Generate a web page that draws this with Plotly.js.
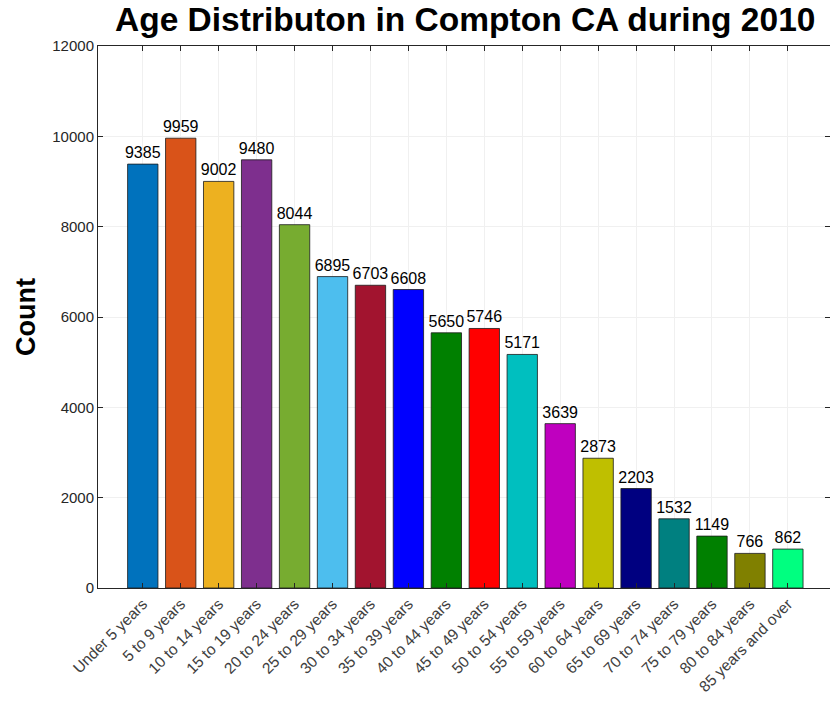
<!DOCTYPE html>
<html>
<head>
<meta charset="utf-8">
<script src="https://cdn.plot.ly/plotly-3.0.1.min.js"></script>
<style>html,body{margin:0;padding:0;background:#fff;}</style>
</head>
<body>
<div id="chart" style="width:830px;height:702px;"></div>
<script>
const categories = ["Under 5 years","5 to 9 years","10 to 14 years","15 to 19 years","20 to 24 years","25 to 29 years","30 to 34 years","35 to 39 years","40 to 44 years","45 to 49 years","50 to 54 years","55 to 59 years","60 to 64 years","65 to 69 years","70 to 74 years","75 to 79 years","80 to 84 years","85 years and over"];
const counts = [9385,9959,9002,9480,8044,6895,6703,6608,5650,5746,5171,3639,2873,2203,1532,1149,766,862];
const barColors = ["#0072BD","#D95319","#EDB120","#7E2F8E","#77AC30","#4DBEEE","#A2142F","#0000FF","#008000","#FF0000","#00BFBF","#BF00BF","#BFBF00","#000080","#008080","#008000","#808000","#00FF80"];
const yTicks = [0,2000,4000,6000,8000,10000,12000];

const positions = categories.map((c,i)=>i);
const font = "Liberation Sans, Arial, Helvetica, sans-serif";

const trace = {
  type: "bar",
  x: positions,
  y: counts,
  width: 0.8,
  marker: {color: barColors, line: {color: "#1a1a1a", width: 0.8}},
  text: counts.map(String),
  textposition: "outside",
  constraintext: "none",
  textfont: {family: font, size: 16, color: "#000"},
  cliponaxis: false,
  hoverinfo: "x+y"
};

const layout = {
  width: 830, height: 702,
  margin: {l: 98, r: 0, t: 46, b: 114},
  paper_bgcolor: "#fff", plot_bgcolor: "#fff",
  showlegend: false,
  title: {text: "<b>Age Distributon in Compton CA during 2010</b>", x: 0.5605, xanchor: "center", y: 0.973, yanchor: "middle", font: {family: font, size: 33.5, color: "#000"}},
  xaxis: {
    range: [-1.18, 18.11],
    tickvals: positions, ticktext: categories, tickangle: -45,
    tickfont: {family: font, size: 15.5, color: "#404040"},
    ticks: "inside", ticklen: 5, tickcolor: "#262626",
    showline: true, linecolor: "#262626", linewidth: 1, mirror: "ticks",
    showgrid: true, gridcolor: "#f0f0f0", zeroline: false
  },
  yaxis: {
    range: [0, 12000],
    tickvals: yTicks, ticktext: yTicks.map(String),
    tickfont: {family: font, size: 15, color: "#262626"},
    ticks: "inside", ticklen: 5, tickcolor: "#262626",
    showline: true, linecolor: "#262626", linewidth: 1, mirror: "ticks",
    showgrid: true, gridcolor: "#f0f0f0", zeroline: false,
    title: {text: "<b>Count</b>", font: {family: font, size: 27, color: "#000"}, standoff: 8}
  },
  bargap: 0.2
};

Plotly.newPlot("chart", [trace], layout, {displayModeBar: false, staticPlot: true});
</script>
</body>
</html>
